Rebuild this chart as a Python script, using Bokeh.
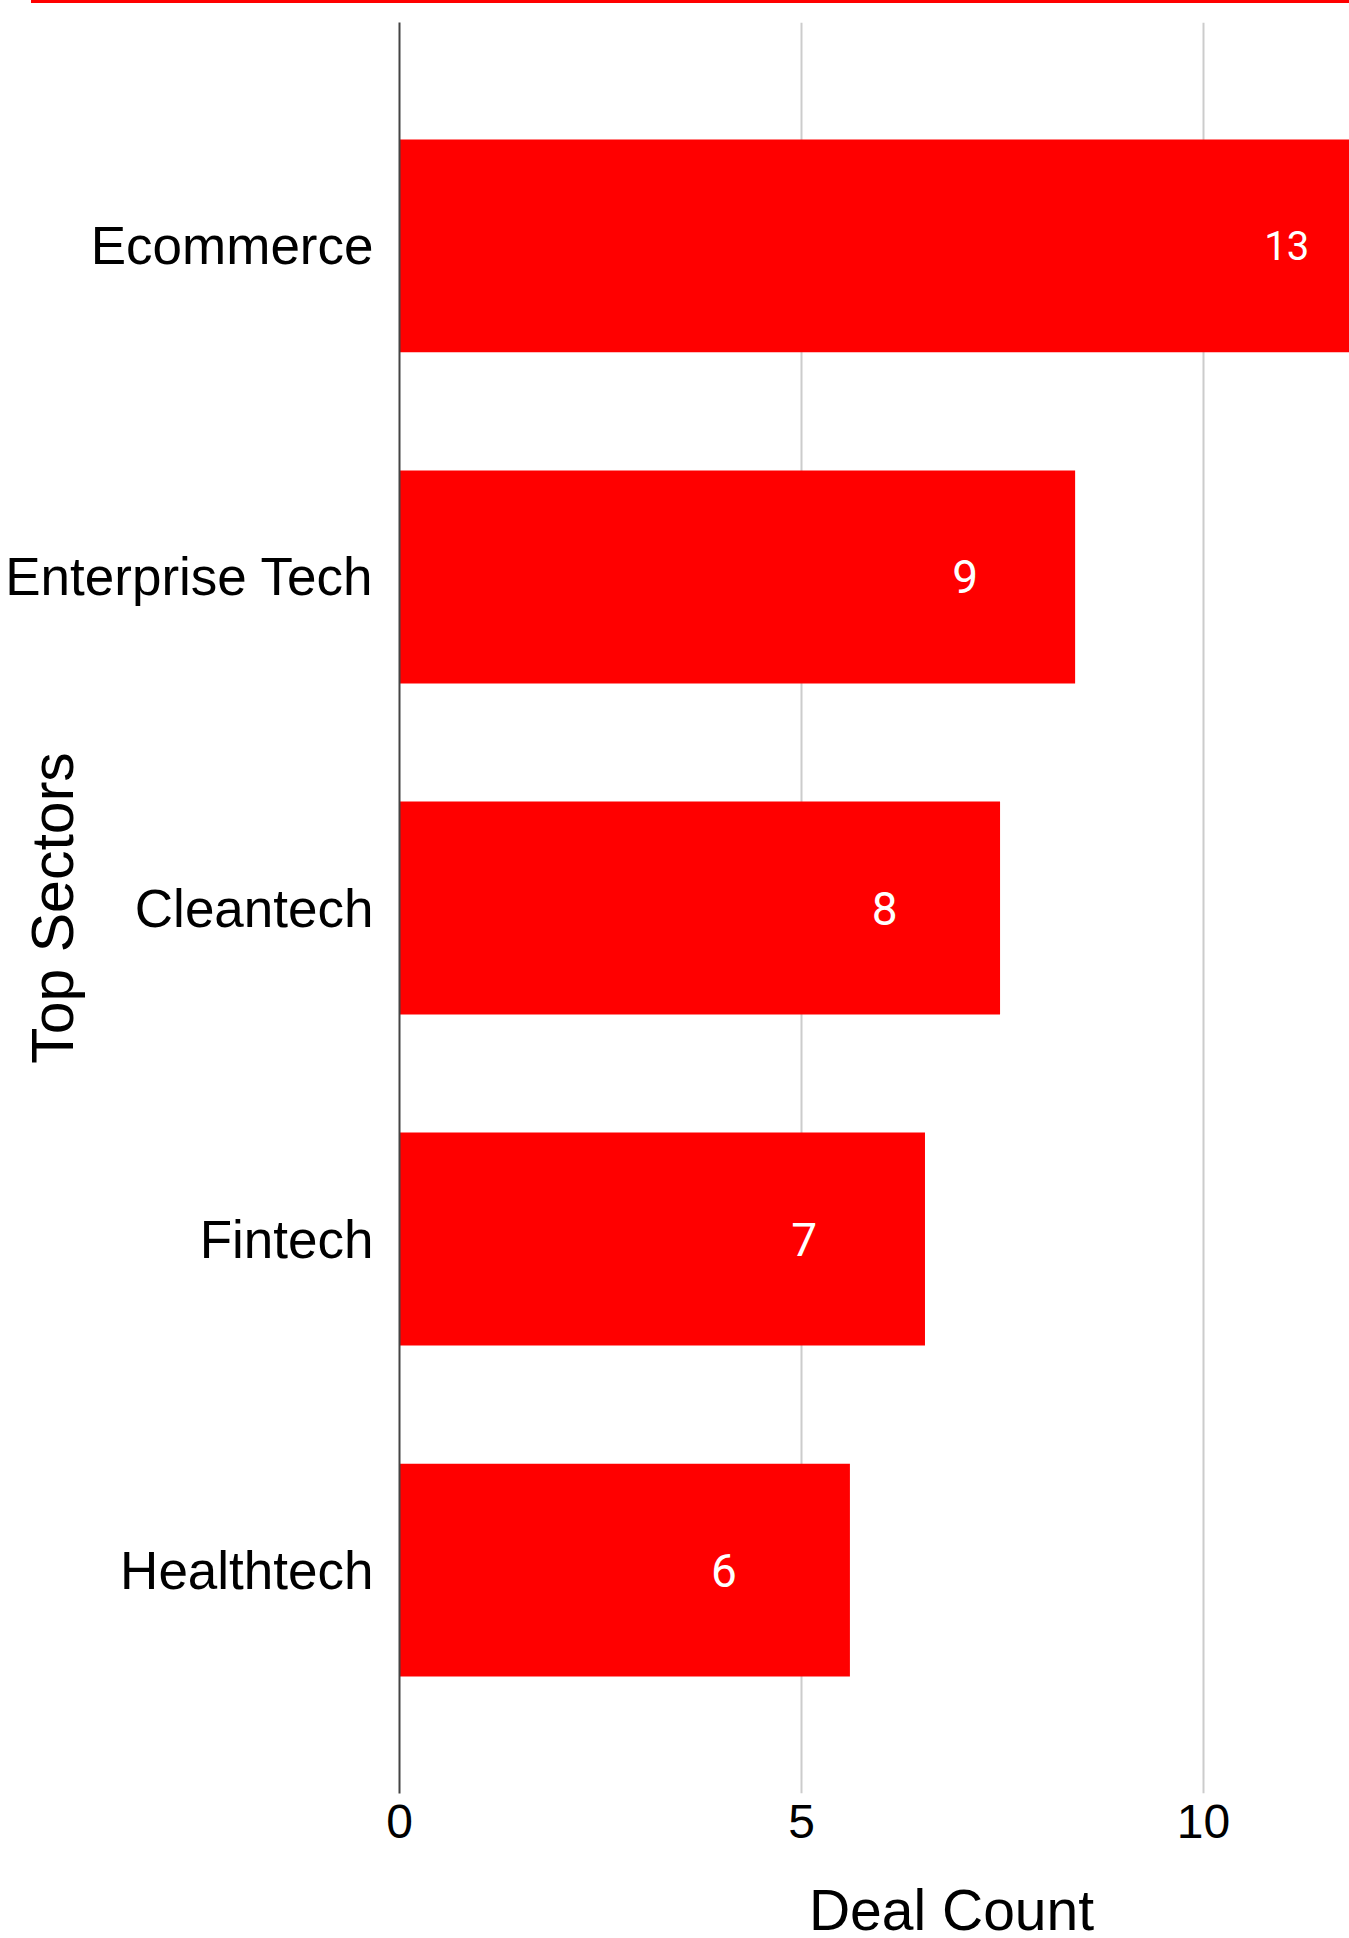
from bokeh.plotting import figure
from bokeh.layouts import column
from bokeh.models import (Range1d, FactorRange, LinearAxis, Grid, FixedTicker,
                          ColumnDataSource, LabelSet, Label, Div)
from bokeh.core.properties import value, field
from bokeh.embed import file_html
from bokeh.resources import INLINE

# ---- data ----
sectors = ["Ecommerce", "Enterprise Tech", "Cleantech", "Fintech", "Healthtech"]
deal_counts = [13, 9, 8, 7, 6]
x_ticks = [0, 5, 10]
x_axis_title = "Deal Count"
y_axis_title = "Top Sectors"

# ---- styles ----
FONT = "Liberation Sans"
RED = "#ff0000"
label_sizes = ["40px", "46px", "46px", "46px", "46px"]

TOP_RULE = 3
W, H = 1349, 1938 - TOP_RULE
p = figure(
    width=W, height=H,
    y_range=FactorRange(factors=sectors[::-1], range_padding=0.175,
                        range_padding_units="absolute"),
    x_range=Range1d(0, 12.655),
    x_axis_location=None,
    output_backend="svg", toolbar_location=None,
    min_border_left=399, min_border_right=0,
    min_border_top=22 - TOP_RULE, min_border_bottom=145,
)
p.extra_x_ranges = {"ticks": Range1d(0, 11.816)}
p.outline_line_color = None
p.background_fill_color = "white"
p.border_fill_color = "white"

# y axis
p.yaxis.axis_line_color = "#444444"
p.yaxis.axis_line_width = 2
p.yaxis.major_tick_line_color = None
p.yaxis.minor_tick_line_color = None
p.yaxis.major_label_text_font = FONT
p.yaxis.major_label_text_font_size = "53px"
p.yaxis.major_label_text_color = "black"
p.yaxis.major_label_standoff = 20
p.yaxis.axis_label = y_axis_title
p.yaxis.axis_label_text_font = FONT
p.yaxis.axis_label_text_font_size = "59px"
p.yaxis.axis_label_text_font_style = "normal"
p.yaxis.axis_label_text_color = "black"
p.yaxis.axis_label_standoff = -84
p.ygrid.grid_line_color = None
p.xgrid.grid_line_color = None

# x axis (tick scale)
xaxis = LinearAxis(
    x_range_name="ticks", ticker=FixedTicker(ticks=x_ticks),
    axis_line_color=None, major_tick_line_color=None, minor_tick_line_color=None,
    major_label_text_font=FONT, major_label_text_font_size="48px",
    major_label_text_color="black", major_label_standoff=5,
)
p.add_layout(xaxis, "below")
p.add_layout(Grid(dimension=0, ticker=xaxis.ticker, x_range_name="ticks",
                  grid_line_color="#cccccc", grid_line_width=2))

src = ColumnDataSource(dict(
    sector=sectors, count=deal_counts,
    label=[str(v) for v in deal_counts], size=label_sizes,
))
p.hbar(y="sector", left=0, right="count", height=0.643, source=src,
       fill_color=RED, line_color=None)

p.add_layout(LabelSet(
    x="count", y="sector", text="label", source=src, x_range_name="ticks",
    x_offset=-158, text_align="center", text_baseline="middle",
    text_color="white", text_font=value("Roboto"), text_font_size=field("size"),
))

p.add_layout(Label(
    x=951, y=1906, x_units="canvas", y_units="canvas", text=x_axis_title,
    text_align="center", text_baseline="alphabetic", padding=9,
    text_font=FONT, text_font_size="57px", text_color="black",
), "below")

# thin red rule at the very top of the page
rule = Div(text="", width=W - 31, height=TOP_RULE, margin=(0, 0, 0, 31),
           styles={"background-color": RED})

layout = column(rule, p, spacing=0)
open("out.html", "w").write(file_html(layout, INLINE))
